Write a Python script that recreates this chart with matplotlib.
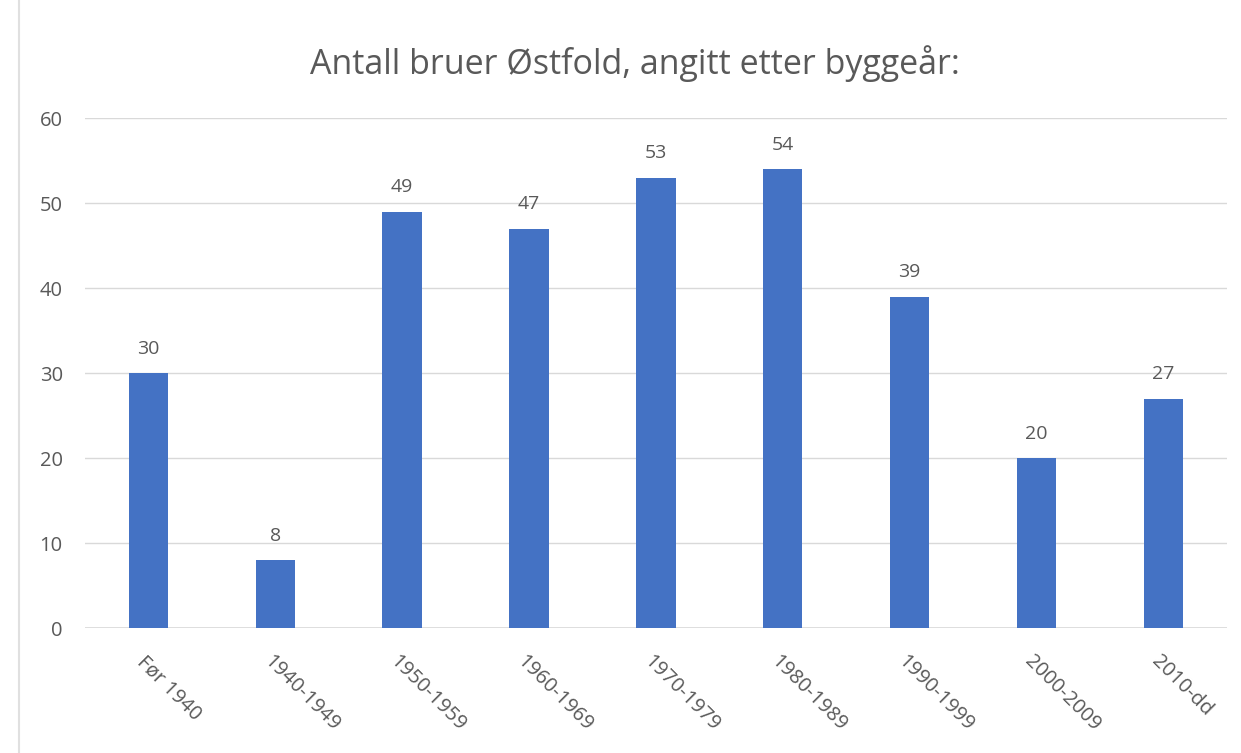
import matplotlib as mpl
mpl.use("Agg")
import matplotlib.pyplot as plt
import matplotlib.transforms as mtrans
from matplotlib.lines import Line2D

categories = ["Før 1940", "1940-1949", "1950-1959", "1960-1969", "1970-1979",
              "1980-1989", "1990-1999", "2000-2009", "2010-dd"]
values = [30, 8, 49, 47, 53, 54, 39, 20, 27]
yticks = [0, 10, 20, 30, 40, 50, 60]

BAR = "#4472C4"
TXT = "#595959"
GRID = "#d9d9d9"

plt.rcParams["font.family"] = ["Open Sans", "DejaVu Sans"]

fig = plt.figure(figsize=(12.41, 7.53), dpi=100)
ax = fig.add_axes([0.0685, 0.166, 0.92, 0.677])

x = list(range(len(categories)))
ax.bar(x, values, width=0.31, color=BAR, zorder=3)
ax.set_xlim(-0.5, len(categories) - 0.5)
ax.set_ylim(0, 60)
ax.set_yticks(yticks)
ax.yaxis.grid(True, color=GRID, lw=1.0, zorder=0)
for s in ax.spines.values():
    s.set_visible(False)
ax.axhline(0, color=GRID, lw=1.2, zorder=2)
ax.tick_params(axis="both", length=0, labelcolor=TXT)
ax.tick_params(axis="y", pad=16, labelsize=14.5)

ax.set_xticks(x)
ax.set_xticklabels(categories, rotation=-45, ha="left", va="top",
                   rotation_mode="anchor", fontsize=14.5, color=TXT)
ax.tick_params(axis="x", pad=17)
off = mtrans.ScaledTranslation(-0.02, 0, fig.dpi_scale_trans)
for lab in ax.get_xticklabels():
    lab.set_transform(lab.get_transform() + off)

for xi, v in zip(x, values):
    ax.annotate(str(v), (xi, v), xytext=(0, 11), textcoords="offset points",
                ha="center", va="bottom", fontsize=14, color=TXT)

fig.text(0.512, 0.916, "Antall bruer Østfold, angitt etter byggeår:",
         ha="center", va="center", fontsize=24.5, color=TXT)

fig.add_artist(Line2D([19 / 1241, 19 / 1241], [0, 1], transform=fig.transFigure,
                      color="#e0e0e0", lw=1.5))

fig.savefig("out.png", dpi=100)
